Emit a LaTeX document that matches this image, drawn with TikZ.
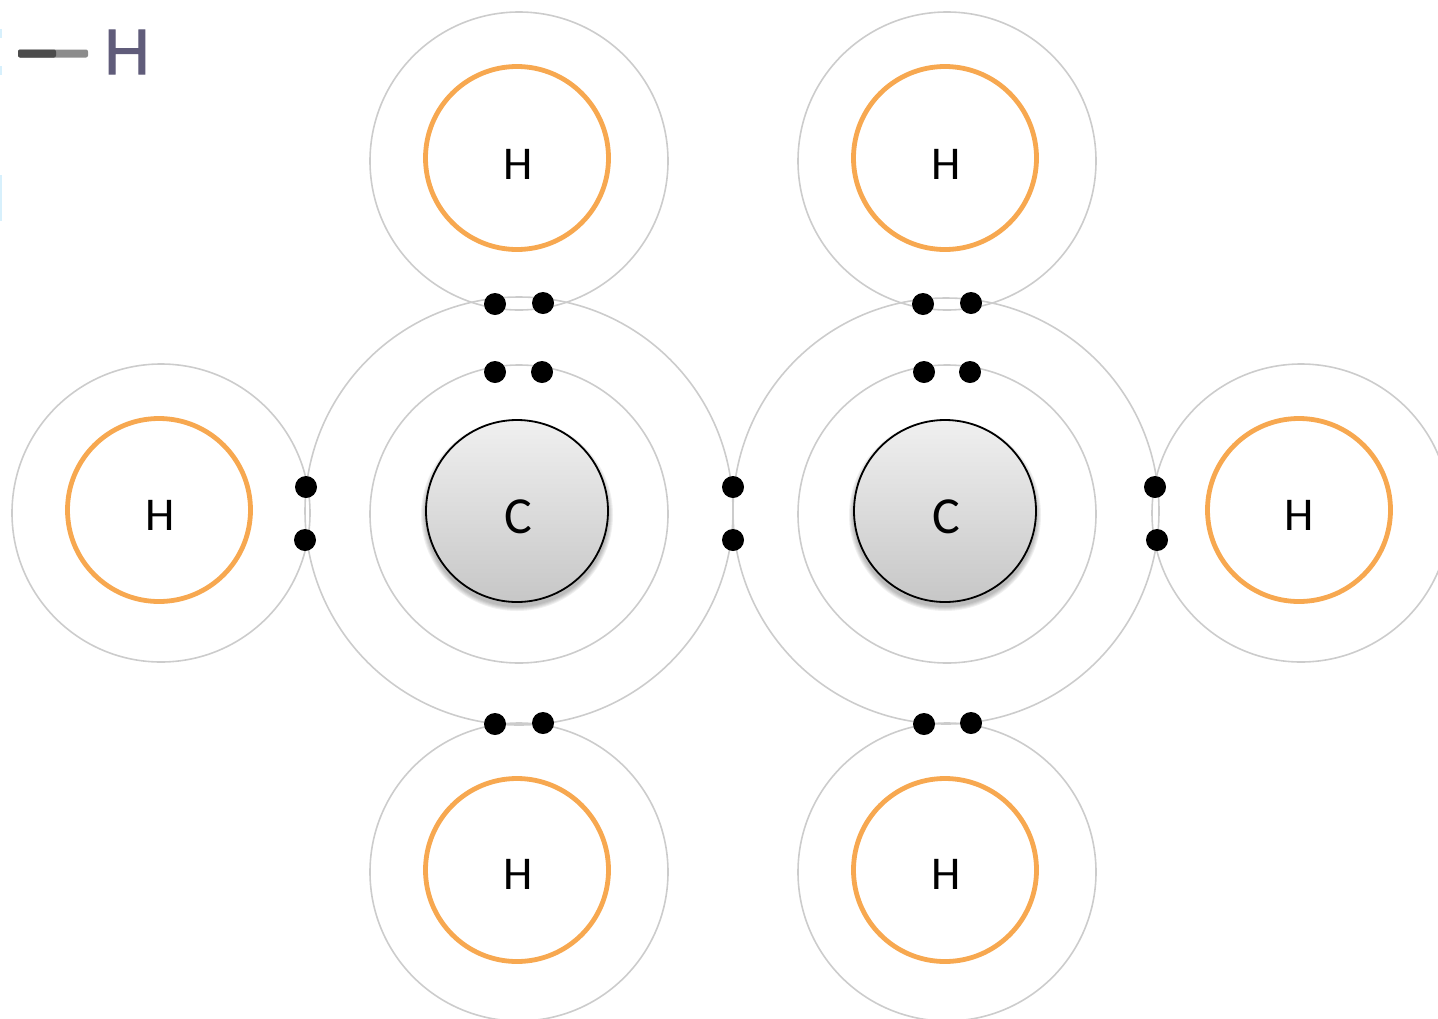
\documentclass[tikz,border=0pt]{standalone}
\usepackage{fontspec}
\setmainfont{Carlito}
\newfontfamily\legendfont[FakeBold=1.6]{Liberation Sans}
\definecolor{shellgray}{RGB}{204,204,204}
\definecolor{hring}{RGB}{247,168,80}
\definecolor{legendink}{RGB}{96,92,122}
\definecolor{edgetint}{RGB}{215,240,252}
\tikzset{
  shell/.style={circle,draw=shellgray,line width=1.6pt,minimum size=#1,inner sep=0pt},
  hatom/.style={circle,draw=hring,line width=4.8pt,minimum size=183pt,inner sep=0pt},
  hlabel/.style={inner sep=0pt,font=\fontsize{47}{47}\selectfont},
  catom/.style={circle,draw=black,line width=1.8pt,minimum size=182pt,inner sep=0pt,top color=black!6,bottom color=black!22},
  clabel/.style={inner sep=0pt,font=\fontsize{52}{52}\selectfont},
  softshadow/.style={circle,fill=black,fill opacity=0.06,minimum size=#1,inner sep=0pt},
  electron/.style={circle,fill=black,minimum size=22pt,inner sep=0pt},
  bondpart/.style={inner sep=0pt,minimum height=8pt,rounded corners=2pt}
}
\begin{document}
\begin{tikzpicture}[x=1pt,y=-1pt]
\useasboundingbox (0,0) rectangle (1438,1018);
\clip (0,0) rectangle (1438,1018);
% shells
\node[shell=298pt] (s1) at (519,161) {};
\node[shell=298pt] (s2) at (947,161) {};
\node[shell=298pt] (s3) at (161,513) {};
\node[shell=298pt] (s4) at (1301,513) {};
\node[shell=298pt] (s5) at (519,872) {};
\node[shell=298pt] (s6) at (947,872) {};
\node[shell=428pt] (o1) at (519,511) {};
\node[shell=426pt] (o2) at (946,511) {};
\node[shell=298pt] (i1) at (519,514) {};
\node[shell=298pt] (i2) at (947,514) {};
% hydrogen
\node[hatom] (h1) at (517,158) {};
\node[hatom] (h2) at (945,158) {};
\node[hatom] (h3) at (159,510) {};
\node[hatom] (h4) at (1299,510) {};
\node[hatom] (h5) at (517,870) {};
\node[hatom] (h6) at (945,870) {};
\node[hlabel] (lh1) at (518,164) {H};
\node[hlabel] (lh2) at (946,164) {H};
\node[hlabel] (lh3) at (160,515) {H};
\node[hlabel] (lh4) at (1299,515) {H};
\node[hlabel] (lh5) at (518,874) {H};
\node[hlabel] (lh6) at (946,874) {H};
% carbon shadows
\foreach \sx/\nm in {517/a,945/b}{
  \foreach \r/\k in {192/1,190/2,188/3,186/4,184/5}{
    \node[softshadow=\r pt] (sh\nm\k) at (\sx,515) {};
  }
}
\node[catom] (c1) at (517,511) {};
\node[catom] (c2) at (945,511) {};
\node[clabel] (lc1) at (518,517) {C};
\node[clabel] (lc2) at (946,517) {C};
% electrons
\node[electron] (e1) at (495,304) {};
\node[electron] (e2) at (543,303) {};
\node[electron] (e3) at (923,304) {};
\node[electron] (e4) at (971,303) {};
\node[electron] (e5) at (495,372) {};
\node[electron] (e6) at (542,372) {};
\node[electron] (e7) at (924,372) {};
\node[electron] (e8) at (970,372) {};
\node[electron] (e9) at (306,487) {};
\node[electron] (e10) at (305,540) {};
\node[electron] (e11) at (733,487) {};
\node[electron] (e12) at (733,540) {};
\node[electron] (e13) at (1155,487) {};
\node[electron] (e14) at (1157,540) {};
\node[electron] (e15) at (495,724) {};
\node[electron] (e16) at (543,723) {};
\node[electron] (e17) at (924,724) {};
\node[electron] (e18) at (971,723) {};
% legend fragment
\node[bondpart,fill=black!45,minimum width=70pt] (bondb) at (53,53.5) {};
\node[bondpart,fill=black!70,minimum width=38pt] (bonda) at (37,53.5) {};
\node[inner sep=0pt,text=legendink,font=\legendfont\fontsize{64}{64}\selectfont] (lg) at (127,52) {H};
% cropped remnants on the left edge
\fill[edgetint] (0,29) rectangle (1.5,38);
\fill[edgetint] (0,66) rectangle (1.5,75);
\fill[edgetint] (0,175) rectangle (1.5,221);
\end{tikzpicture}
\end{document}
